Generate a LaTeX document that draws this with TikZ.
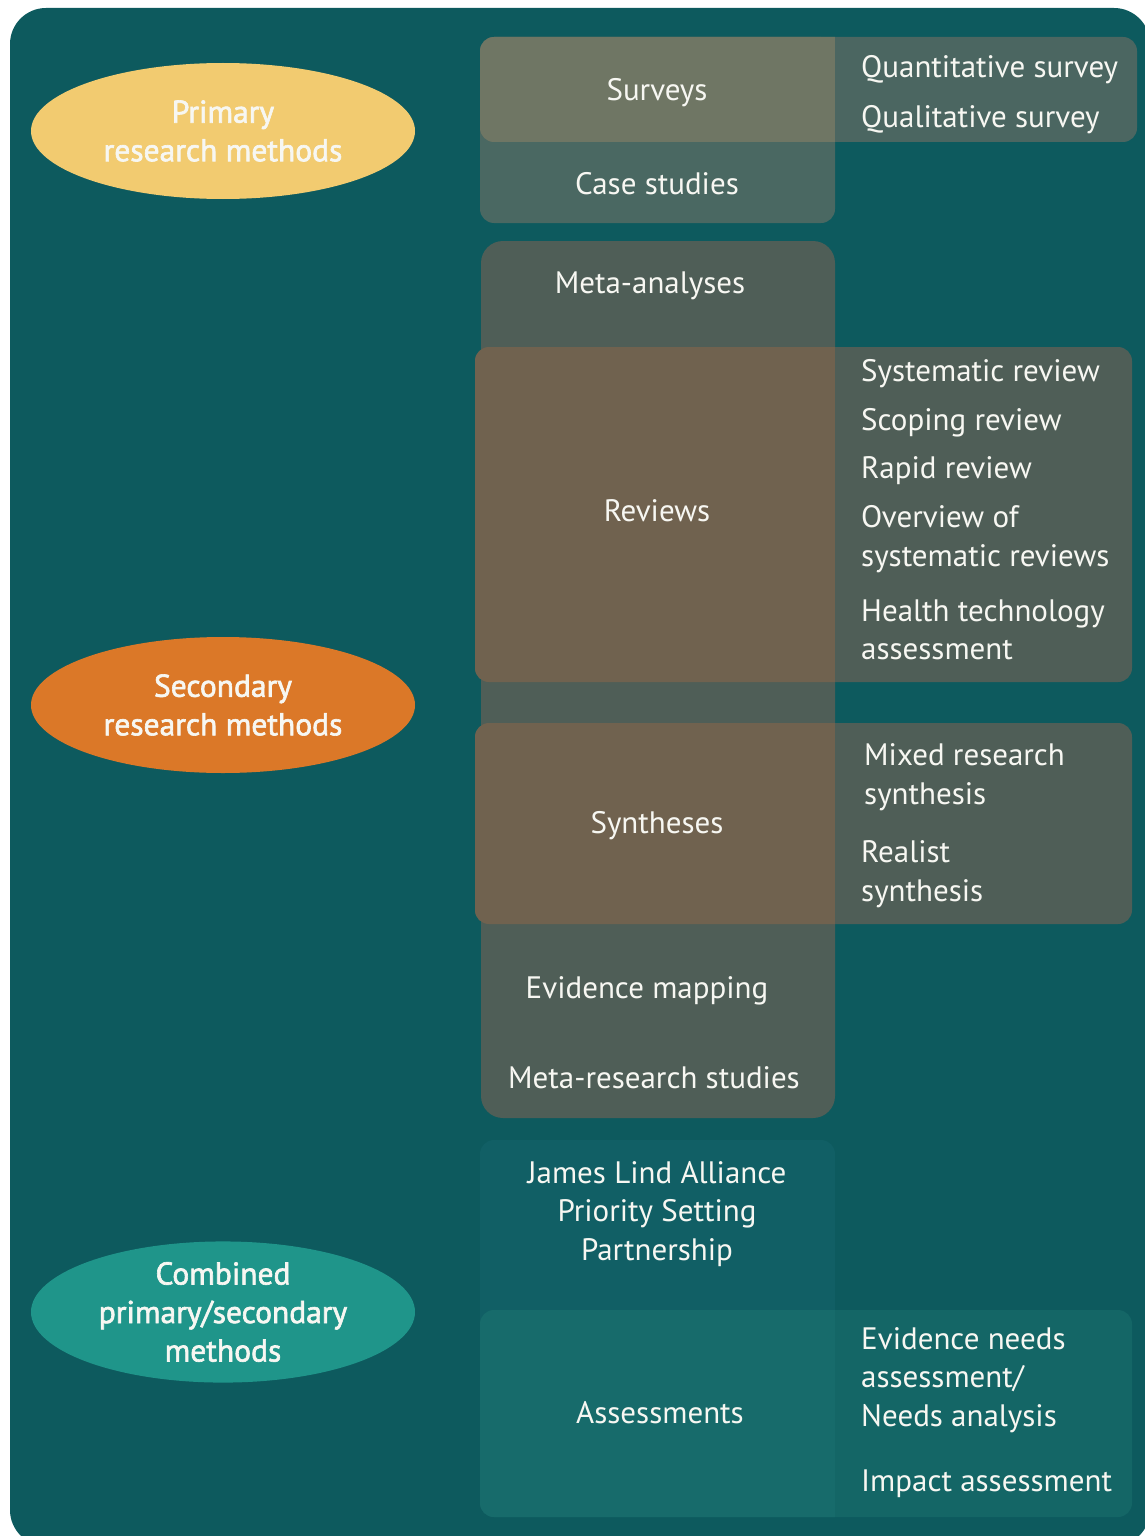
\documentclass[tikz,border=0pt]{standalone}
\usepackage{fontspec}
\setmainfont{PT Sans}
\newfontfamily\semib[FakeBold=2]{PT Sans}
\usetikzlibrary{shapes.geometric}
\definecolor{bgc}{HTML}{0D5A5E}
\definecolor{pcol}{HTML}{4A6862}
\definecolor{prow}{HTML}{4B6661}
\definecolor{polap}{HTML}{6F7664}
\definecolor{sgrey}{HTML}{4F5E57}
\definecolor{sbrown}{HTML}{70624F}
\definecolor{ccol}{HTML}{115F65}
\definecolor{crow}{HTML}{146666}
\definecolor{colap}{HTML}{176B6B}
\definecolor{cyel}{HTML}{F2CB70}
\definecolor{corg}{HTML}{DB7828}
\definecolor{cgrn}{HTML}{1F958A}
\definecolor{txt}{HTML}{F7F7F2}
\tikzset{
  lab/.style={text=txt, inner sep=0pt, font=\fontsize{31}{38.5}\selectfont},
  ctr/.style={lab, align=center},
  lft/.style={lab, anchor=west, align=left},
  oval/.style={ellipse, minimum width=384pt, minimum height=136pt, inner sep=0pt,
     text=txt, align=center, font=\semib\fontsize{31.5}{38.5}\selectfont},
  boxr/.style={rounded corners=14pt}
}
\begin{document}
\begin{tikzpicture}[x=1pt,y=-1pt]
\useasboundingbox (0,0) rectangle (1144,1536);
\fill[bgc, rounded corners=36pt] (10,8) rectangle (1150,1546);

% primary block
\fill[pcol, boxr] (480,37) rectangle (835,223);
\fill[prow, boxr] (480,37) rectangle (1137,142);
\begin{scope}
  \clip[boxr] (480,37) rectangle (1137,142);
  \fill[polap] (470,30) rectangle (835,150);
\end{scope}

% secondary block
\fill[sgrey, rounded corners=22pt] (481,241) rectangle (835,1118);
\fill[sgrey, boxr] (475,347) rectangle (1132,682);
\begin{scope}
  \clip[boxr] (475,347) rectangle (1132,682);
  \fill[sbrown] (470,340) rectangle (835,690);
\end{scope}
\fill[sgrey, boxr] (475,723) rectangle (1132,924);
\begin{scope}
  \clip[boxr] (475,723) rectangle (1132,924);
  \fill[sbrown] (470,715) rectangle (835,930);
\end{scope}

% combined block
\fill[ccol, boxr] (480,1140) rectangle (835,1517);
\fill[crow, boxr] (480,1310) rectangle (1132,1517);
\begin{scope}
  \clip[boxr] (480,1310) rectangle (1132,1517);
  \fill[colap] (470,1300) rectangle (835,1525);
\end{scope}

% ellipses
\node[oval, fill=cyel] (prim) at (223,131) {Primary\\research methods};
\node[oval, fill=corg] (sec) at (223,705) {Secondary\\research methods};
\node[oval, fill=cgrn] (comb) at (223,1312) {Combined\\primary/secondary\\methods};

% primary texts
\node[ctr] (surveys) at (657,93) {Surveys};
\node[ctr] (case) at (657,184) {Case studies};
\node[lft] (quant) at (861,69.5) {Quantitative survey};
\node[lft] (qual) at (861,119.5) {Qualitative survey};

% secondary texts
\node[ctr] (meta) at (650,286) {Meta-analyses};
\node[ctr] (reviews) at (657,511) {Reviews};
\node[lft] (sysrev) at (861,373.5) {Systematic review};
\node[lft] (scop) at (861,422.5) {Scoping review};
\node[lft] (rapid) at (861,470.5) {Rapid review};
\node[lft] (overv) at (861,539) {Overview of\\systematic reviews};
\node[lft] (hta) at (861,630) {Health technology\\assessment};
\node[ctr] (synth) at (657,826) {Syntheses};
\node[lft] (mixed) at (864,777) {Mixed research\\synthesis};
\node[lft] (realist) at (861,874) {Realist\\synthesis};
\node[ctr] (evmap) at (647,991) {Evidence mapping};
\node[ctr] (metares) at (654,1078) {Meta-research studies};

% combined texts
\node[ctr] (jla) at (657,1214) {James Lind Alliance\\Priority Setting\\Partnership};
\node[ctr] (assess) at (660,1413) {Assessments};
\node[lft] (evneeds) at (861,1380) {Evidence needs\\assessment/\\Needs analysis};
\node[lft] (impact) at (861,1483.5) {Impact assessment};
\end{tikzpicture}
\end{document}
